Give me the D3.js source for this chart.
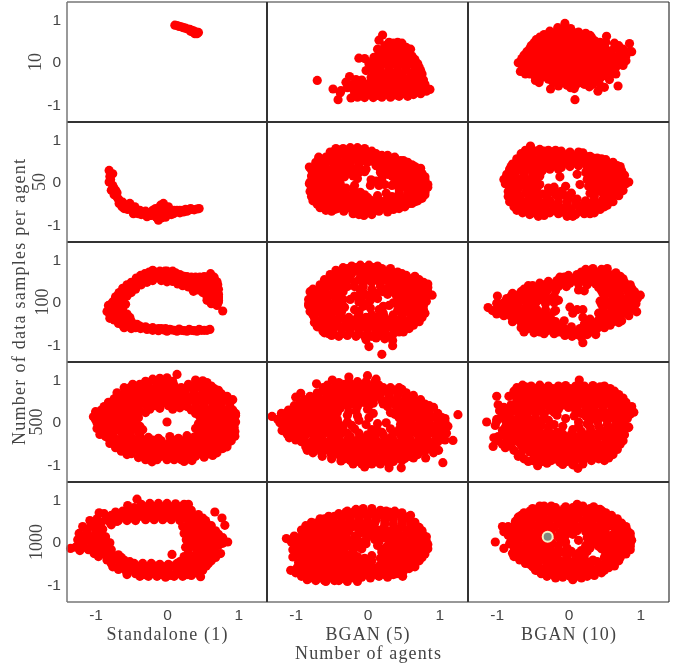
<!DOCTYPE html>
<html><head><meta charset="utf-8">
<script src="https://cdn.jsdelivr.net/npm/d3@7/dist/d3.min.js"></script>
<style>html,body{margin:0;padding:0;background:#fff}svg{display:block;filter:blur(.35px)}</style></head>
<body><div id="c"></div><script>
// Categories
const agentColumns=["Standalone (1)","BGAN (5)","BGAN (10)"];
const sampleRows=["10","50","100","500","1000"];
const tickValues=[-1,0,1];
// Point clouds: flat x,y lists in hundredths
const s10=[11,86,14,85,17,83,20,82,23,80,26,79,29,77,32,76,35,74,38,72,41,70,44,69,42,66,39,66,36,70,33,72];
const s50=[-81,27,-76,19,-80,13,-81,0,-78,-19,-72,-19,-75,-12,-70,-25,-74,-30,-70,-35,-67,-42,-67,-50,-62,-47,-52,-50,-58,-55,-63,-58,-60,-62,-55,-64,-50,-62,-47,-68,-43,-66,-47,-74,-42,-72,-38,-66,-34,-70,-36,-76,-30,-68,-28,-81,-25,-72,-22,-78,-19,-68,-16,-62,-14,-72,-12,-89,-12,-80,-9,-54,-8,-66,-9,-78,-5,-50,-5,-60,-3,-72,-2,-82,2,-58,3,-68,6,-76,9,-74,10,-66,14,-70,18,-66,23,-70,26,-64,30,-66,33,-62,38,-65,45,-62,
-79,6,-76,-8,-68,-40,-64,-52,-55,-58,-45,-58,-40,-74,-32,-74,-25,-78,-20,-66,-15,-82,-8,-84,-7,-60,-2,-64,0,-76,5,-70,14,-66,18,-72,22,-66,28,-68,35,-64,42,-63,-16,-70,-5,-74];
const s100=[-80,-29,-78,-15,-76,0,-72,12,-67,22,-62,32,-56,40,-50,46,-43,56,-37,62,-31,66,-25,70,-18,71,-10,72,-3,72,0,72,6,70,12,68,18,64,24,60,28,59,34,58,40,58,46,58,52,59,56,58,61,66,66,58,70,47,71,40,71,22,72,10,72,0,70,-8,78,-21,-78,-5,-73,5,-68,18,-62,24,-56,30,-48,40,-42,48,-34,52,-26,56,-18,58,-10,58,-2,60,4,54,12,52,20,48,28,46,36,42,44,36,50,30,44,28,37,25,30,35,22,38,15,42,8,48,0,47,-8,50,-20,50,-28,46,-36,40,-44,30,-50,22,-56,14,-62,8,-64,-5,-70,-15,-62,-15,-58,-5,56,50,62,50,68,35,62,30,56,20,62,15,68,5,56,4,62,-4,70,20,64,42,50,48,-76,-30,-70,-28,-62,-30,-56,-28,-52,-36,-74,-42,-68,-42,-65,-45,-62,-54,-58,-48,-56,-56,-50,-45,-48,-56,-42,-52,-37,-62,-38,-56,-30,-58,-28,-64,-20,-60,-20,-66,-12,-62,-12,-67,-5,-65,0,-68,6,-65,14,-68,20,-66,28,-68,34,-66,42,-68,48,-66,56,-66,60,-64,
-84,-22,-82,-8,-74,-15,-70,-2,-78,-18,-70,8,-66,12,-60,16,-58,26,-52,34,-46,46,-40,54,-32,58,-22,64,-14,66,-6,66,2,66,8,62,16,58,24,54,32,52,40,50,48,52,54,44,58,40,60,34,64,24,66,10,58,10,52,36,60,46,66,48,72,30,72,12,66,-2,-80,-38,-74,-36,-66,-36,-60,-40,-68,-50,-54,-46,-60,-60,-50,-62,-44,-60,-34,-60,-24,-62,-16,-64,-8,-62,-2,-62,4,-64,10,-66,17,-63,24,-67,31,-64,38,-67,45,-64,52,-66,
58,28,64,32,68,28,72,18,72,4,66,14,60,6,56,12,50,22,46,44,38,46,58,54,-74,-10,8,72,-20,74];
const s500=[-20,100,-10,102,0,103,14,111,40,98,50,96,-38,88,-26,90,-14,87,-2,89,10,86,30,88,42,87,54,88,62,84,-58,72,-46,75,-34,72,-22,74,-10,71,2,75,14,72,26,74,38,71,50,73,62,70,72,74,-66,58,-54,60,-42,57,-30,59,-18,56,-6,60,6,57,20,59,32,56,44,60,56,57,68,59,80,58,-78,44,-68,42,-56,45,-44,42,-32,44,-20,41,-8,44,4,42,16,44,28,41,40,44,52,41,64,44,76,42,88,45,92,52,-92,28,-84,26,-70,28,-58,26,-46,29,-38,26,-24,30,-10,32,8,30,18,33,34,28,46,30,58,27,70,30,82,27,92,28,-103,12,-96,14,-86,10,-74,13,-62,10,-50,13,-40,10,46,12,58,14,70,10,82,13,94,10,96,15,-98,-2,-90,-5,-78,-2,-66,-4,-54,-2,-42,-5,0,0,44,-4,56,-1,68,-4,80,-2,92,-5,-98,-15,-94,-29,-82,-18,-70,-16,-58,-18,-46,-15,-34,-18,40,-15,50,-19,62,-16,74,-18,86,-16,95,-22,-86,-34,-74,-36,-62,-32,-50,-35,-38,-32,-26,-36,-12,-38,4,-34,16,-38,28,-32,38,-35,50,-33,62,-36,74,-33,86,-36,95,-33,-70,-50,-58,-48,-46,-52,-34,-50,-22,-48,-10,-52,2,-50,14,-53,26,-49,38,-52,50,-49,62,-52,74,-50,84,-58,-56,-66,-46,-64,-34,-67,-22,-64,-10,-67,2,-64,14,-67,26,-64,38,-67,50,-64,62,-66,72,-64,-40,-83,-30,-80,-20,-82,-8,-80,4,-83,16,-80,28,-82,40,-80,52,-82,-21,-93,24,-92,35,-90,
-30,95,-16,96,-4,96,8,95,44,92,56,92,-52,80,-40,82,-28,80,-16,80,-4,80,8,80,20,80,36,80,48,80,60,78,-62,65,-50,66,-38,65,-26,66,-14,64,-2,66,10,64,26,66,38,64,50,66,62,64,74,66,-72,50,-60,52,-48,50,-36,52,-24,50,-12,52,0,50,12,50,24,50,36,52,48,50,60,52,72,50,84,50,-84,36,-76,36,-64,34,-52,37,-40,36,-28,36,-16,38,2,38,14,38,28,36,40,36,52,36,64,37,76,36,88,36,-96,20,-88,20,-76,20,-64,18,-52,20,-42,18,-30,22,40,20,52,22,64,20,76,20,88,20,96,20,-100,5,-92,3,-80,5,-68,3,-56,5,-44,3,50,4,62,6,76,3,88,4,96,0,-92,-10,-84,-10,-72,-10,-60,-10,-48,-10,-38,-10,46,-10,58,-8,70,-10,82,-10,94,-12,-88,-26,-76,-26,-64,-24,-52,-26,-40,-24,44,-24,56,-26,68,-26,80,-26,90,-26,-80,-42,-68,-43,-56,-42,-44,-42,-32,-42,-20,-42,-8,-44,8,-42,20,-44,32,-42,44,-42,56,-44,68,-42,80,-44,90,-44,-64,-58,-52,-58,-40,-58,-28,-56,-16,-60,-4,-58,8,-58,20,-58,32,-58,44,-58,56,-58,68,-57,78,-58,-50,-74,-38,-74,-26,-74,-14,-72,-2,-74,10,-74,22,-72,34,-74,46,-74,58,-74,-30,-88,-14,-88,0,-88,10,-88,20,-88,30,-86,
-74,54,-82,46,-88,36,-100,24,-80,-50,-72,-60,-64,-68,-56,-76,84,-52,78,-62,70,-72,64,-78,-48,88,-60,80,-70,68,66,78,76,66,84,60];
const s1000=[-42,100,-55,85,-36,88,-24,90,-12,90,0,90,12,89,24,88,30,88,-95,68,-88,66,-72,70,-62,72,-50,74,-38,74,-26,76,-14,74,-2,76,10,74,22,76,34,74,44,64,67,70,77,56,81,39,-108,50,-98,54,-86,52,-74,56,-62,58,-50,56,-38,60,-26,58,-14,60,-2,58,10,60,22,58,34,56,46,54,54,50,-118,36,-106,38,-94,34,22,36,34,38,46,36,58,34,-123,20,-112,22,-100,20,-90,16,24,20,36,18,48,22,60,20,72,18,-125,5,-112,4,-100,2,-88,6,-80,-2,27,5,38,2,50,6,62,3,74,5,85,0,-135,-15,-128,-12,-116,-12,-104,-8,-92,-10,-84,-14,26,-12,38,-10,50,-14,62,-10,72,-8,-102,-27,-90,-28,-78,-26,-68,-30,30,-26,42,-28,54,-24,64,-27,75,-27,7,-29,-84,-42,-72,-40,-60,-42,-52,-46,18,-46,30,-42,42,-44,54,-40,62,-44,-76,-58,-64,-54,-52,-58,-40,-56,-28,-58,-16,-56,-4,-58,8,-56,20,-58,32,-56,44,-60,55,-56,-56,-76,-44,-74,-32,-76,-20,-74,-8,-76,4,-78,16,-74,28,-76,40,-72,47,-81,
-46,80,-30,82,-18,82,-6,82,6,82,18,82,27,82,-78,62,-66,64,-54,66,-44,66,-32,67,-20,68,-8,68,4,68,16,68,28,66,40,60,50,56,-102,44,-92,46,-80,46,-68,50,-56,50,-44,50,-30,52,-18,52,-6,52,6,52,18,50,30,48,42,46,56,42,62,38,-112,30,-100,28,-90,30,-78,40,-70,48,28,30,40,28,52,28,62,26,68,26,-116,12,-106,12,-94,10,-86,12,32,12,44,12,56,12,68,12,78,10,-120,-4,-106,-2,-94,-4,-84,0,32,-2,44,-2,56,-4,68,-2,78,-3,-122,-20,-110,-18,-98,-18,-88,-20,-78,-18,30,-18,42,-18,56,-18,66,-18,-96,-34,-84,-34,-76,-34,-64,-36,24,-34,36,-34,48,-34,58,-34,68,-36,-78,-50,-66,-48,-58,-48,-46,-50,-34,-50,-22,-50,-10,-52,2,-52,14,-50,24,-50,36,-50,48,-50,58,-50,-68,-64,-58,-66,-46,-66,-34,-66,-22,-66,-10,-66,2,-68,14,-66,26,-66,38,-66,50,-66,-38,-80,-26,-80,-14,-80,-2,-82,10,-80,22,-80,34,-78];
const b5_10=[21,63,16,51,36,44,30,38,42,38,54,34,60,30,14,30,22,22,34,24,46,22,58,22,-12,9,-4,8,9,11,20,10,32,12,44,8,56,10,66,6,2,-4,12,-4,24,-2,36,-4,48,-2,60,-4,70,-4,-2,-20,8,-18,18,-20,30,-18,42,-20,54,-18,66,-20,74,-20,-25,-34,-16,-41,5,-36,14,-34,26,-36,38,-34,50,-36,62,-34,72,-36,-30,-47,-20,-52,-10,-48,2,-50,14,-50,26,-48,38,-50,50,-48,62,-50,74,-48,80,-52,-48,-63,-37,-67,-28,-60,-20,-63,-8,-64,4,-62,16,-64,28,-62,40,-64,52,-62,64,-64,76,-60,87,-64,-41,-88,-23,-84,-18,-75,-8,-78,2,-76,14,-78,26,-76,38,-77,50,-74,56,-80,64,-76,74,-74,-70,-43,
30,46,42,46,48,44,24,38,36,30,48,30,56,26,28,30,16,16,28,18,40,16,52,16,62,14,8,4,18,2,30,4,42,2,54,4,64,0,6,-10,18,-12,30,-10,42,-12,54,-10,66,-12,72,-12,10,-28,24,-28,36,-26,48,-28,60,-26,70,-28,76,-28,-8,-42,8,-44,20,-42,32,-42,44,-42,56,-42,68,-44,78,-42,-26,-55,-14,-56,-2,-56,10,-56,22,-56,34,-56,46,-56,58,-56,70,-54,80,-58,-38,-72,-14,-71,-2,-70,8,-70,20,-70,32,-70,44,-70,58,-70,70,-70,82,-68,-14,-82,-4,-83,8,-83,20,-82,32,-82,44,-80];
const b10_10=[-5,90,-15,80,-5,80,3,78,-34,64,-24,68,-12,66,0,66,8,68,24,67,-45,52,-34,52,-22,54,-10,52,2,54,14,52,26,54,36,50,53,60,-52,38,-42,38,-30,40,-18,38,-6,40,6,38,18,40,30,38,42,40,50,36,70,38,85,43,-58,24,-48,24,-36,26,-24,24,-12,26,0,24,12,26,24,24,36,26,48,24,60,26,72,22,84,24,88,24,-65,8,-54,10,-42,12,-30,10,-18,12,-6,10,6,12,18,10,30,12,42,10,54,12,66,10,78,8,-70,-2,-60,-4,-48,-2,-36,-4,-24,-2,-12,-4,0,-2,12,-4,24,-2,36,-4,48,-2,60,-4,72,-2,80,3,-67,-22,-56,-18,-44,-20,-32,-18,-20,-20,-8,-18,4,-20,16,-18,28,-20,40,-18,52,-20,64,-20,-54,-28,-46,-36,-34,-34,-22,-32,-10,-34,2,-32,14,-34,26,-32,38,-34,50,-32,-46,-43,-41,-48,-22,-46,-8,-48,4,-46,16,-48,28,-46,40,-44,57,-41,-25,-63,3,-60,8,-62,29,-58,50,-59,45,-56,69,-56,41,-68,9,-88,
-26,72,-16,72,-6,72,4,72,14,70,30,62,-40,58,-28,60,-16,60,-4,60,8,60,20,60,32,58,44,46,-48,45,-38,46,-26,46,-14,46,-2,46,10,46,22,46,34,46,46,44,52,46,64,44,-54,31,-44,32,-32,32,-20,32,-8,32,4,32,16,32,28,32,40,32,52,30,64,32,76,30,-62,16,-50,18,-38,18,-26,18,-14,18,-2,18,10,18,22,18,34,18,46,18,58,18,70,16,80,14,-66,2,-56,4,-44,4,-32,4,-20,4,-8,4,4,4,16,4,28,4,40,4,52,4,64,4,74,4,-64,-10,-54,-12,-42,-12,-30,-12,-18,-12,-6,-12,6,-12,18,-12,30,-12,42,-12,54,-12,66,-12,76,-8,-60,-28,-50,-28,-38,-26,-26,-26,-14,-26,-2,-26,10,-26,22,-26,34,-26,46,-26,58,-26,66,-28,-40,-40,-28,-40,-16,-42,-4,-40,8,-40,20,-40,32,-40,44,-38,-14,-56,-2,-54,10,-54,22,-52,34,-52];
const b5_50=[-45,74,-34,78,-24,80,-14,80,-4,78,-58,58,-48,62,-36,66,-24,64,-12,66,0,64,12,66,20,62,-65,50,-54,52,-42,54,-30,50,-18,54,-6,50,6,54,16,50,28,54,40,50,50,50,-81,35,-70,38,-60,36,-48,34,-36,36,-24,38,-12,36,-2,30,12,38,24,34,36,36,48,34,60,34,70,26,-74,22,-62,20,-50,22,-38,20,-28,24,-12,22,-4,24,18,22,28,18,40,22,52,18,64,20,76,20,-76,6,-64,4,-52,6,-40,4,-14,8,5,5,20,8,24,-6,38,6,50,4,62,6,74,4,-81,-4,-78,-12,-66,-10,-54,-12,-42,-10,-30,-14,-18,-8,4,-8,12,2,16,-8,34,-8,50,-10,62,-12,74,-8,80,-18,-80,-22,-68,-26,-56,-24,-44,-26,-32,-24,-20,-26,-10,-24,14,-32,26,-26,44,-26,56,-24,68,-26,80,-24,-70,-40,-58,-38,-46,-40,-34,-38,-22,-40,-10,-38,0,-36,4,-42,16,-42,28,-40,40,-42,52,-38,64,-40,72,-36,-60,-56,-48,-54,-36,-56,-24,-54,-12,-56,0,-54,12,-56,24,-54,36,-56,48,-52,58,-50,-46,-64,-33,-68,-20,-70,-8,-68,4,-70,16,-68,28,-70,36,-64,-12,-76,-5,-78,6,-76,
-40,70,-28,72,-18,72,-8,72,6,72,-52,64,-42,58,-30,58,-18,60,-6,58,6,60,16,58,26,60,38,58,-70,44,-58,44,-46,44,-36,44,-24,44,-12,44,0,46,10,46,20,44,32,44,44,44,54,42,62,40,-78,28,-66,28,-54,28,-42,28,-30,30,-18,30,18,30,30,28,42,28,54,28,66,28,74,24,-78,14,-68,12,-56,14,-44,12,-32,12,-20,14,34,14,46,14,58,14,70,12,80,12,-80,0,-70,-3,-58,-3,-46,-3,-38,-4,44,-2,56,-2,68,-2,80,-2,84,-6,-74,-18,-62,-18,-50,-18,-38,-18,-20,-16,56,-18,68,-18,78,-15,84,-12,44,-16,-76,-34,-64,-32,-52,-32,-40,-32,-28,-32,-16,-32,-4,-30,34,-34,46,-34,58,-32,70,-32,78,-30,-64,-48,-52,-46,-40,-48,-28,-46,-16,-48,-4,-46,10,-48,22,-46,34,-48,46,-46,58,-46,66,-46,-54,-62,-42,-62,-30,-62,-18,-62,-6,-62,6,-62,18,-62,30,-62,42,-60,-20,-74,-10,-74,
-68,58,-72,46,-78,-34,-76,-44,-70,-52,-66,-60,-58,-66,-50,-68,76,12,80,6,80,-30,76,-38,70,-44,62,-50,52,-58,44,-62,-52,70,-44,78,28,62,36,56,46,50,56,46,66,36,74,32];
const b10_50=[-53,80,-40,76,-28,74,-18,74,-62,62,-50,66,-38,62,-26,64,-14,62,-2,64,10,60,22,62,-68,50,-56,52,-44,50,-32,52,-20,50,-8,52,4,50,16,52,28,54,40,50,52,46,-80,36,-70,36,-58,34,-46,36,-34,34,-22,38,-10,34,2,36,14,38,30,34,42,36,54,34,66,32,-86,18,-74,20,-62,22,-50,20,-38,24,-26,30,-14,30,24,22,36,20,48,22,60,20,72,24,78,16,-90,6,-80,4,-68,6,-56,4,-44,8,-12,12,12,18,26,6,38,8,50,4,62,6,74,2,-88,-4,-78,-10,-66,-8,-54,-12,-40,-6,-20,-12,-4,-10,16,-6,28,-10,40,-8,52,-10,64,-8,72,-12,84,0,80,-4,-84,-22,-74,-24,-60,-26,-48,-22,-36,-28,-24,-22,-10,-22,4,-26,30,-26,44,-22,56,-26,66,-24,-78,-40,-68,-38,-56,-40,-44,-38,-30,-42,-14,-36,0,-38,12,-40,24,-44,36,-42,48,-40,58,-38,-74,-54,-62,-56,-50,-52,-38,-56,-26,-50,-14,-54,-2,-56,10,-52,22,-56,34,-52,46,-54,-68,-64,-56,-66,-44,-68,-32,-70,-20,-66,-8,-70,4,-72,16,-68,28,-68,36,-64,-34,-78,-2,-80,6,-80,
-58,70,-46,72,-34,72,-22,70,-10,72,2,70,14,70,20,68,-64,56,-52,58,-40,56,-28,58,-16,56,-4,58,8,56,20,58,34,56,46,54,-74,44,-62,42,-50,44,-38,44,-26,44,-14,42,-2,44,10,44,22,44,36,44,48,42,60,40,68,38,-82,26,-72,28,-60,28,-48,28,-36,28,26,30,38,28,50,28,62,26,74,26,-84,12,-74,12,-62,14,-50,14,-40,14,30,14,42,14,54,14,66,12,76,10,-84,-3,-72,-3,-60,-3,-48,-3,32,-2,44,-2,56,-2,68,-4,78,4,-82,-14,-70,-16,-58,-18,-44,-14,-28,-14,34,-18,48,-16,60,-18,70,-16,-80,-32,-68,-32,-54,-32,-42,-32,-30,-34,-18,-30,-4,-32,36,-34,50,-32,62,-32,-72,-46,-62,-48,-50,-46,-38,-48,-26,-44,-14,-46,-2,-46,10,-46,22,-50,34,-48,46,-47,56,-46,-66,-60,-56,-60,-44,-60,-32,-62,-20,-58,-8,-62,4,-64,16,-62,28,-62,40,-60,50,-58,-62,-66,-50,-72,-38,-74,-26,-72,-14,-74,10,-76,22,-74,
-82,30,-78,42,-72,54,-66,66,-60,74,-53,84,-84,-34,-82,-46,-76,-58,-72,-66,-64,-72,-54,-76,-42,-80,30,-74,36,-72,44,-64,54,-54,62,-46,70,-32,76,-20,30,60,40,56,52,52,62,46,72,36];
const b5_100=[-22,84,-10,86,2,86,14,84,-40,68,-30,72,-18,74,-6,72,6,74,18,72,30,74,42,70,-48,56,-36,58,-24,60,-6,60,6,58,18,60,30,58,42,60,54,62,66,60,-56,44,-44,46,-32,42,-18,46,-6,44,6,46,18,44,30,46,42,44,54,46,66,44,78,46,-70,28,-60,30,-48,32,-36,30,-10,28,6,30,12,20,28,32,42,30,54,32,66,30,78,30,84,34,-74,16,-64,14,-52,16,-40,18,-18,14,-10,10,-2,16,6,14,28,18,40,16,52,14,64,16,76,14,90,16,-82,-4,-72,-2,-60,0,-48,-4,-24,6,-12,0,4,4,14,8,36,-2,48,2,60,0,72,-2,82,2,-78,-14,-68,-16,-56,-14,-44,-12,-32,-12,-18,-18,-6,-10,4,-14,16,-18,22,-10,48,-14,60,-16,72,-14,78,-18,-76,-30,-64,-26,-52,-30,-40,-26,-12,-28,6,-30,22,-26,36,-30,48,-26,60,-28,72,-32,-68,-44,-56,-42,-44,-44,-32,-40,-20,-44,-8,-42,4,-44,16,-42,28,-44,40,-42,52,-44,62,-42,70,-38,-62,-54,-52,-58,-40,-56,-28,-58,-16,-56,-4,-58,8,-56,20,-58,32,-56,44,-58,54,-56,-60,-72,-48,-72,-36,-74,-24,-72,-12,-74,0,-72,12,-74,24,-72,36,-74,44,-70,-2,-88,12,-84,24,-86,35,-90,2,-104,20,-122,35,-102,
-28,78,-16,80,-4,80,8,80,20,78,32,78,-44,62,-34,64,-22,66,-10,66,0,66,12,66,24,66,36,66,48,66,-52,50,-40,52,-28,52,-12,52,0,52,12,52,24,52,36,52,48,54,60,54,72,52,80,40,-64,36,-52,38,-40,38,-28,36,-18,36,-6,36,18,36,34,38,48,38,60,38,72,38,84,42,-70,22,-58,22,-46,24,-34,24,-6,22,22,24,36,24,48,22,60,22,72,22,84,24,-78,8,-68,6,-56,8,-44,8,-34,6,-8,2,44,8,56,8,68,8,80,8,-82,-8,-74,-8,-62,-8,-50,-8,-40,-4,-2,-6,30,-8,42,-6,54,-8,66,-8,78,-8,-80,-22,-70,-22,-58,-22,-46,-20,-36,-22,-12,-22,42,-20,54,-22,66,-22,76,-24,-74,-36,-62,-36,-50,-36,-38,-34,-26,-36,-14,-36,-2,-36,12,-36,24,-36,36,-36,48,-36,60,-36,70,-36,-66,-50,-54,-50,-42,-50,-30,-50,-18,-50,-6,-50,6,-50,18,-50,30,-50,42,-50,54,-50,64,-50,-60,-62,-48,-64,-36,-64,-24,-64,-12,-64,0,-64,12,-66,24,-64,36,-64,46,-64,52,-62,-40,-80,-28,-78,-16,-80,-4,-80,6,-80,18,-78,30,-80,-50,-78,
-82,6,-80,24,-76,30,-66,40,-60,52,-52,64,-44,74,-34,80,-74,-48,-70,-58,-62,-68,-54,-74,80,-26,76,-36,72,-46,64,-54,58,-62,50,-70];
const b10_100=[24,76,34,78,46,76,54,78,-12,58,0,62,12,64,24,64,36,62,48,64,60,62,72,60,-56,38,-40,44,-28,48,-16,50,-4,52,8,50,20,50,32,48,44,50,56,48,68,48,78,46,-62,30,-50,32,-38,34,-26,36,-14,36,-3,36,14,28,22,26,42,34,54,32,66,34,78,32,88,32,-99,14,-78,20,-70,16,-58,18,-46,20,-34,16,-20,14,48,20,60,18,72,16,84,18,100,16,-88,2,-78,2,-66,4,-54,0,-42,4,-20,-2,-14,4,44,2,56,0,68,2,80,4,92,2,-112,-13,-98,-10,-84,-12,-72,-10,-60,-14,-48,-8,-20,-22,2,-12,12,-18,20,-18,50,-10,62,-14,74,-10,86,-12,-100,-28,-88,-24,-76,-26,-64,-28,-52,-24,-40,-26,-30,-30,-18,-20,6,-26,42,-26,54,-28,66,-24,78,-26,95,-23,-72,-40,-60,-42,-48,-38,-36,-42,-24,-40,-6,-44,20,-36,30,-40,42,-42,54,-40,66,-38,74,-44,-62,-56,-50,-52,-38,-56,-26,-52,-14,-54,-8,-58,4,-58,22,-52,34,-56,46,-52,58,-54,-62,-70,-40,-70,-28,-66,-14,-70,-2,-66,10,-70,22,-68,34,-70,38,-76,-5,-78,5,-80,18,-82,20,-95,
18,70,30,70,42,70,54,70,66,68,-6,58,8,56,18,58,30,56,42,56,54,56,66,54,76,54,-50,38,-34,40,-22,42,-10,44,2,44,14,42,26,40,38,42,50,40,62,40,74,40,86,40,-80,14,-66,24,-54,26,-42,26,-30,26,-18,26,46,26,58,26,70,26,82,26,92,24,-86,8,-74,10,-62,10,-50,10,-38,10,-26,8,50,10,62,8,74,8,86,8,96,8,-100,-3,-92,-4,-82,-5,-70,-4,-58,-6,-46,-3,-32,-4,46,-5,58,-6,70,-4,82,-5,94,-4,-106,-20,-92,-18,-80,-18,-68,-20,-56,-18,-44,-18,-32,-18,48,-18,60,-20,72,-18,84,-18,92,-18,-90,-32,-80,-34,-68,-34,-56,-34,-44,-32,-30,-38,48,-34,60,-34,72,-32,84,-32,-78,-46,-66,-48,-54,-46,-42,-48,-30,-46,-18,-46,26,-46,38,-48,50,-46,62,-46,70,-48,-66,-60,-56,-62,-44,-62,-32,-60,-20,-62,-8,-64,4,-64,16,-62,28,-62,40,-62,50,-60,-48,-72,-34,-74,-20,-74,-8,-72,2,-74,12,-76,26,-76];
const b5_500=[-49,98,-26,105,0,108,12,100,-71,89,-56,86,-44,84,-32,88,-20,86,-8,88,4,84,16,86,-60,72,-48,70,-36,74,-24,72,-12,74,0,72,12,74,24,72,36,75,48,76,-93,67,-100,58,-80,60,-68,58,-56,60,-44,58,-32,60,-20,58,-8,60,4,58,16,60,30,58,42,62,54,60,64,62,-94,44,-82,46,-70,44,-58,46,-46,44,-34,46,-22,42,-6,46,8,44,22,42,34,46,46,44,58,46,70,44,80,42,-110,28,-98,30,-86,28,-74,30,-62,28,-50,30,-38,32,-16,26,0,30,8,20,32,22,44,28,56,30,68,28,80,30,92,34,-133,13,-120,20,-108,14,-96,10,-84,14,-72,12,-60,14,-48,10,-28,16,-14,14,2,10,44,10,56,14,68,12,80,14,92,12,104,10,126,17,-122,-2,-110,-4,-98,0,-86,-2,-74,-4,-62,-2,-50,0,-40,-4,-28,0,-12,4,-2,-6,14,-4,26,-2,46,-6,60,-2,72,-4,84,-2,96,-6,108,0,-119,-20,-108,-16,-96,-18,-84,-14,-72,-18,-60,-16,-48,-14,-34,-20,-18,-16,6,-18,14,-20,32,-16,44,-18,56,-16,68,-14,80,-18,92,-16,104,-20,-109,-37,-98,-34,-86,-30,-74,-34,-62,-30,-50,-34,-38,-30,-24,-34,-10,-36,0,-30,10,-34,22,-30,34,-34,46,-30,58,-34,70,-30,82,-34,94,-30,106,-34,119,-43,-92,-46,-80,-50,-68,-46,-56,-50,-44,-46,-32,-50,-20,-46,-8,-50,4,-46,16,-50,28,-46,40,-50,52,-46,64,-50,76,-46,88,-50,98,-46,-84,-66,-70,-62,-58,-64,-46,-62,-34,-64,-22,-62,-10,-64,2,-62,14,-64,26,-62,38,-64,50,-62,62,-64,74,-60,86,-62,99,-66,-63,-80,-50,-78,-38,-80,-26,-78,-14,-80,-2,-78,10,-80,22,-78,34,-80,46,-78,58,-80,70,-76,81,-84,-37,-91,-24,-90,-12,-92,0,-90,12,-93,24,-90,36,-92,48,-90,105,-95,-4,-105,30,-107,47,-107,
-40,92,-26,94,-14,94,-2,94,10,94,-62,80,-50,78,-38,80,-26,80,-14,80,-2,80,10,80,22,80,32,80,44,80,-70,68,-54,66,-42,64,-30,66,-18,66,-6,66,6,66,18,66,30,66,42,68,54,68,-88,52,-76,52,-64,52,-52,52,-40,52,-28,52,-16,52,-4,52,8,52,20,50,28,52,40,52,52,52,64,52,74,52,-102,38,-90,38,-78,38,-66,38,-54,38,-42,38,-28,38,-14,36,2,38,28,36,40,36,52,38,64,38,76,38,86,38,-114,20,-102,22,-90,22,-78,22,-66,22,-54,22,-42,22,-26,24,38,18,50,20,62,22,74,22,86,22,98,20,-125,6,-114,6,-102,6,-90,6,-78,6,-66,6,-54,6,-42,6,50,6,62,6,74,6,86,6,98,6,108,8,-116,-10,-104,-10,-92,-8,-80,-8,-68,-10,-56,-8,-44,-8,-34,-10,-22,-8,52,-10,66,-10,78,-10,90,-10,102,-10,112,-10,-112,-28,-102,-26,-90,-24,-78,-26,-66,-24,-54,-24,-42,-24,-28,-26,-12,-26,20,-24,38,-24,50,-24,62,-24,74,-24,86,-24,98,-26,110,-26,-100,-42,-88,-40,-76,-42,-64,-40,-52,-42,-40,-38,-28,-42,-14,-42,-2,-38,12,-42,24,-38,36,-42,48,-38,60,-42,72,-38,84,-42,96,-38,108,-42,-86,-58,-74,-56,-62,-56,-50,-56,-38,-56,-26,-56,-14,-56,-2,-56,10,-56,22,-56,34,-56,46,-56,58,-56,70,-56,82,-56,94,-56,-76,-72,-64,-72,-52,-70,-40,-72,-28,-70,-16,-72,-4,-70,8,-72,20,-70,32,-72,44,-70,56,-72,68,-68,80,-68,92,-72,-50,-86,-32,-86,-20,-85,-8,-85,4,-85,16,-86,28,-86,40,-85,52,-85,64,-84,-20,-98,-8,-98,6,-98,18,-98,30,-98];
const b10_500=[15,98,-64,86,-52,84,-40,86,-28,84,-14,84,-4,85,10,84,22,84,34,85,44,82,-83,60,-66,70,-54,72,-42,70,-30,72,-18,70,-6,72,6,70,18,72,30,70,42,72,54,66,-100,60,-66,56,-54,56,-42,56,-30,56,-18,58,-6,56,6,58,18,56,30,58,42,56,54,58,66,62,-98,40,-80,40,-66,42,-54,40,-42,42,-30,44,-18,42,-6,40,6,42,18,44,30,40,42,42,54,44,66,40,76,38,-96,26,-88,30,-76,28,-64,26,-52,28,-40,26,-26,28,-14,30,10,26,24,30,36,28,48,26,60,28,72,26,84,28,91,23,-92,10,-82,12,-70,10,-58,14,-46,10,-34,8,-16,16,-4,8,8,14,24,14,36,12,48,14,60,10,72,14,82,8,-114,0,-100,2,-86,-4,-72,-2,-60,-4,-48,-2,-38,-6,-20,-6,-8,-10,14,0,26,-4,40,2,54,-6,66,-4,78,-6,82,-14,-92,-20,-82,-22,-68,-18,-56,-20,-44,-18,-28,-20,-16,-24,6,-18,18,-22,32,-22,46,-20,60,-18,72,-16,74,-28,-104,-37,-92,-30,-80,-34,-66,-34,-54,-32,-42,-34,-30,-32,-16,-36,-4,-38,10,-34,22,-36,34,-34,46,-32,58,-34,70,-32,-105,-57,-98,-44,-84,-50,-70,-46,-56,-48,-44,-46,-32,-48,-20,-46,-8,-48,4,-46,16,-48,28,-46,40,-48,52,-46,62,-46,-88,-60,-76,-66,-60,-62,-48,-62,-36,-64,-24,-62,-12,-64,0,-62,12,-64,24,-62,36,-64,48,-62,58,-60,-48,-78,-36,-80,-24,-78,-12,-80,0,-78,12,-80,24,-78,36,-80,46,-78,56,-74,-43,-102,-36,-92,-24,-90,-12,-94,-2,-92,8,-94,20,-92,32,-90,13,-108,
-58,78,-46,78,-34,78,-22,78,-10,78,2,78,14,78,26,78,38,78,50,76,-60,62,-48,64,-36,64,-24,64,-12,64,0,64,12,64,24,64,36,64,48,64,60,62,-72,48,-60,48,-48,48,-36,50,-24,50,-12,48,0,48,12,50,24,50,36,50,48,50,60,50,70,48,-90,34,-72,36,-60,34,-48,34,-36,36,-24,36,-12,36,0,34,12,34,24,36,36,36,48,36,60,36,72,34,82,34,-92,18,-82,20,-70,20,-58,20,-46,20,-34,18,-20,22,18,20,30,20,42,20,54,20,66,20,78,20,86,18,-100,6,-88,4,-76,4,-64,6,-52,4,-40,2,-28,4,30,4,42,6,54,4,66,4,76,4,-102,-8,-88,-12,-76,-10,-64,-12,-52,-10,-40,-12,-28,-12,14,-10,30,-12,42,-10,56,-12,68,-10,78,-12,84,-12,-88,-26,-74,-26,-62,-26,-50,-26,-38,-26,-22,-28,-8,-28,4,-28,28,-28,40,-28,52,-26,64,-26,74,-20,-98,-34,-86,-40,-74,-40,-60,-40,-48,-40,-36,-40,-24,-40,-10,-42,2,-42,16,-40,28,-40,40,-40,52,-40,64,-40,72,-38,-92,-52,-80,-56,-66,-54,-52,-54,-40,-56,-28,-54,-16,-54,-4,-54,8,-54,20,-54,32,-54,44,-54,56,-54,66,-50,-66,-72,-54,-70,-42,-70,-30,-70,-18,-70,-6,-70,6,-70,18,-70,30,-70,42,-70,54,-68,62,-66,-44,-86,-30,-86,-18,-86,-6,-86,6,-86,18,-86,30,-84,42,-86,50,-82,-30,-96,-8,-99,6,-100,20,-98,
-72,80,-76,72,-76,62,-60,82,50,84,58,78,64,72,70,64,76,56,80,46,88,36,-70,-80,-62,-86,-56,-92,-50,-90,50,-90,56,-84,62,-76,68,-64,72,-52,76,-44,78,-30];
const b5_1000=[-16,76,-6,78,6,78,18,74,-46,60,-34,62,-22,66,-10,64,2,66,14,62,26,66,38,64,50,58,60,62,-72,44,-60,48,-48,50,-36,48,-24,52,-12,50,0,50,12,52,24,50,36,52,48,48,60,48,-80,34,-68,32,-56,34,-44,36,-32,30,-20,36,-6,34,8,36,22,32,38,30,48,36,60,34,68,36,-90,18,-78,20,-66,22,-54,20,-42,22,-30,18,-18,14,-8,22,6,20,18,22,30,18,42,22,54,20,66,24,72,22,-113,8,-100,6,-88,4,-76,6,-64,4,-52,8,-40,4,-28,6,-16,2,-2,6,10,6,24,10,36,8,48,6,60,4,72,8,82,2,-98,-8,-86,-10,-74,-8,-62,-12,-50,-8,-38,-12,-26,-8,-14,-12,-2,-4,14,-8,26,-12,38,-8,50,-12,62,-8,74,-10,84,-16,-104,-35,-94,-22,-82,-24,-70,-22,-58,-26,-46,-22,-34,-24,-20,-30,-4,-38,6,-32,20,-24,34,-26,48,-22,60,-26,72,-28,-92,-40,-80,-38,-68,-40,-56,-36,-44,-40,-32,-36,-20,-42,-8,-52,6,-44,18,-38,30,-40,42,-36,54,-40,66,-38,70,-34,-107,-66,-92,-54,-80,-56,-68,-52,-56,-56,-44,-52,-32,-56,-20,-54,-8,-58,4,-52,16,-56,28,-52,40,-56,52,-52,64,-52,-90,-72,-78,-70,-66,-68,-54,-72,-42,-68,-30,-72,-18,-68,-6,-72,6,-68,18,-72,30,-68,42,-72,49,-80,-80,-84,-68,-84,-56,-86,-44,-82,-32,-86,-20,-84,-8,-82,4,-84,16,-80,28,-82,-60,-90,-46,-90,-14,-92,
-30,70,-18,72,-6,72,6,72,18,70,30,70,-60,54,-48,56,-36,56,-24,58,-12,58,0,58,12,58,24,58,36,58,48,56,58,54,-76,40,-64,40,-52,42,-40,42,-28,40,-16,42,-2,42,10,44,24,42,36,42,48,42,60,42,-84,26,-72,26,-60,28,-48,28,-36,26,-26,26,-12,28,2,28,14,28,30,26,44,30,56,28,68,28,76,26,-102,14,-92,12,-80,12,-68,12,-56,14,-44,14,-34,12,-14,16,0,14,14,14,26,14,38,14,50,14,62,14,74,14,82,12,-106,0,-94,-2,-82,-2,-70,-2,-58,-2,-46,-2,-34,-2,-20,-4,-8,0,16,0,30,0,42,0,54,-2,66,-2,78,-2,84,-6,-104,-18,-92,-15,-80,-16,-68,-16,-56,-18,-44,-16,-32,-16,-20,-18,-8,-16,20,-18,32,-18,44,-18,56,-18,68,-18,78,-20,-100,-28,-88,-30,-76,-32,-64,-30,-52,-32,-40,-32,-28,-30,-14,-34,26,-32,38,-32,50,-30,62,-32,72,-34,-96,-48,-86,-46,-74,-46,-62,-46,-50,-46,-38,-46,-26,-48,-14,-48,0,-46,24,-46,36,-46,48,-46,60,-46,68,-42,-98,-60,-86,-62,-74,-62,-62,-60,-50,-62,-38,-62,-26,-62,-14,-62,-2,-64,10,-62,22,-62,34,-62,46,-62,56,-60,-84,-78,-72,-76,-60,-78,-48,-76,-36,-78,-24,-76,-12,-76,0,-76,12,-76,24,-76,36,-76,44,-74,
-92,28,-86,38,-78,46,-66,54,-54,60,-40,66,-28,72,-100,-72,-92,-80,-84,-88,-72,-90,-58,-92,-40,-90,-28,-92,32,-76,40,-74,50,-68,58,-62,66,-58,72,-44,76,-36,80,-28,26,72,38,72,48,68,58,60,66,46,72,34,78,16];
const b10_1000=[-34,84,-24,84,-4,82,12,88,20,84,35,82,-66,62,-54,72,-42,74,-30,72,-18,74,-6,72,6,74,18,72,30,74,42,70,47,72,-70,58,-58,56,-46,58,-34,56,-22,58,-10,56,2,58,14,56,26,58,38,56,50,58,60,56,-84,36,-74,40,-62,42,-50,40,-38,42,-26,40,-14,42,-2,40,10,38,22,42,34,40,46,42,60,38,72,38,-92,36,-90,24,-78,26,-66,26,-54,24,-42,26,-30,28,-12,22,0,24,12,26,24,24,36,26,48,24,62,18,74,24,82,26,-76,10,-64,12,-52,10,-40,8,-15,12,-8,6,14,4,26,10,38,12,50,8,62,10,74,8,86,12,-82,-4,-72,-4,-60,-6,-48,-2,-36,-6,-22,-4,-4,0,24,-8,36,-4,48,-6,60,-4,72,-2,86,-4,-90,-15,-74,-20,-64,-16,-52,-20,-40,-18,-28,-16,-14,-18,-2,-14,18,-20,30,-14,46,-16,58,-18,70,-20,82,-16,-102,0,-66,-34,-54,-30,-42,-34,-30,-30,-16,-36,-2,-30,10,-34,22,-30,50,-36,62,-32,74,-30,-56,-46,-44,-48,-32,-44,-20,-48,-8,-46,4,-48,16,-44,28,-48,40,-46,52,-46,64,-48,70,-44,-50,-58,-40,-62,-28,-58,-16,-60,-4,-62,8,-58,20,-60,32,-62,44,-58,56,-60,62,-54,-38,-72,-26,-74,-14,-76,-2,-74,10,-72,22,-76,34,-74,46,-72,-18,-84,6,-88,-8,-82,18,-84,
-40,78,-30,78,-18,80,-6,78,6,80,18,78,30,78,40,76,-60,64,-48,66,-36,64,-24,66,-12,64,0,64,12,66,24,66,36,64,48,66,-74,48,-64,48,-52,48,-40,50,-28,48,-16,50,-4,48,8,48,20,48,32,48,44,50,56,48,66,46,-80,30,-68,34,-56,34,-44,34,-32,34,-20,34,-8,34,4,32,16,34,28,34,40,34,52,32,66,30,78,32,-84,16,-72,18,-60,18,-48,18,-36,18,-24,20,-4,16,6,18,30,18,42,20,54,16,68,16,80,18,86,20,-80,3,-70,3,-58,3,-46,2,-34,2,30,2,42,2,54,2,66,2,78,2,88,4,-76,-12,-66,-10,-54,-12,-42,-12,-30,-10,-14,-8,30,-8,42,-10,54,-12,66,-12,78,-10,86,-10,-78,-26,-66,-26,-58,-24,-46,-26,-34,-24,-22,-24,-8,-24,4,-22,14,-26,26,-22,52,-26,64,-26,76,-24,-62,-40,-50,-38,-38,-40,-26,-38,-14,-42,-2,-38,10,-42,22,-38,34,-42,56,-40,68,-38,-54,-52,-42,-54,-30,-52,-18,-54,-6,-54,6,-52,18,-52,30,-54,42,-52,54,-52,62,-50,-44,-66,-32,-66,-20,-68,-8,-68,4,-68,16,-68,28,-68,40,-66,50,-66,-30,-80,-20,-78,-8,-80,2,-80,14,-80,26,-80,36,-78,
-62,68,-50,78,-40,84,44,76,52,68,60,62,68,54,74,44,80,36,-60,-50,-68,-42,-72,-34,-76,-34,-46,-66,-38,-74,48,-66,56,-56,64,-56,72,-36,80,-28,86,-18];
const highlightPoint=[-29,12];
const pointGrid=[[s10,b5_10,b10_10],[s50,b5_50,b10_50],[s100,b5_100,b10_100],[s500,b5_500,b10_500],[s1000,b5_1000,b10_1000]];

const W=689,H=668,colX=[67,267,468,669],rowY=[2,122,242,362,482,602];
const rowLabelX=[37,41,44,38,38];
const colLabelW=[121,84,95];
const dom=[-1.4,1.4];
const sansF='"Liberation Sans",Arial,sans-serif',serifF='"Liberation Serif",serif',ink='#444',fs=18;
const svg=d3.select('#c').append('svg').attr('width',W).attr('height',H);

function toPts(a){const o=[];for(let i=0;i<a.length;i+=2)o.push([a[i]/100,a[i+1]/100]);return o;}

sampleRows.forEach((rowName,r)=>{
  const y=d3.scaleLinear().domain(dom).range([rowY[r+1],rowY[r]]);
  const ax=svg.append('g').attr('transform',`translate(67,0)`)
    .call(d3.axisLeft(y).tickValues(tickValues).tickSize(0).tickPadding(6).tickFormat(d3.format('d')));
  ax.select('.domain').remove();
  ax.selectAll('text').attr('font-family',sansF).attr('font-size',15.5).attr('fill',ink).text(d=>d<0?'-'+Math.abs(d):d);
  svg.append('text').attr('transform',`translate(${rowLabelX[r]},${y(0)}) rotate(-90)`)
    .attr('text-anchor','middle').attr('dominant-baseline','middle')
    .attr('font-family',serifF).attr('font-size',fs).attr('fill',ink).text(rowName);
  agentColumns.forEach((colName,c)=>{
    const x=d3.scaleLinear().domain(dom).range([colX[c],colX[c+1]]);
    const g=svg.append('g');
    g.selectAll('circle').data(toPts(pointGrid[r][c])).join('circle')
      .attr('cx',d=>x(d[0])).attr('cy',d=>y(d[1])).attr('r',4.6).attr('fill','#ff0000');
    if(r===4&&c===2){
      g.selectAll('.hl').data(toPts(highlightPoint)).join('circle').attr('class','hl')
        .attr('cx',d=>x(d[0])).attr('cy',d=>y(d[1])).attr('r',5).attr('fill','#7f8a80')
        .attr('stroke','#f6efc4').attr('stroke-width',2);
    }
    if(r===4){
      const axb=svg.append('g').attr('transform',`translate(0,${rowY[5]})`)
        .call(d3.axisBottom(x).tickValues(tickValues).tickSize(0).tickPadding(3).tickFormat(d3.format('d')));
      axb.select('.domain').remove();
      axb.selectAll('text').attr('font-family',sansF).attr('font-size',15.5).attr('fill',ink).text(d=>d<0?'-'+Math.abs(d):d);
      axb.selectAll('text').attr('dy','0.95em');
      svg.append('text').attr('x',x(0)).attr('y',640).attr('text-anchor','middle')
        .attr('font-family',serifF).attr('font-size',fs).attr('fill',ink)
        .attr('textLength',colLabelW[c]).attr('lengthAdjust','spacing').text(colName);
    }
  });
});
const lines=svg.append('g').attr('stroke','#333');
rowY.forEach((v,i)=>lines.append('line').attr('x1',67).attr('x2',669).attr('y1',v).attr('y2',v)
  .attr('stroke-width',(i===0||i===5)?1.2:2));
colX.forEach((v,i)=>lines.append('line').attr('y1',2).attr('y2',602).attr('x1',v).attr('x2',v)
  .attr('stroke-width',i===0?1.5:(i===3?1.2:2)).attr('stroke',i===0?'#777':'#333'));
svg.append('text').attr('x',368).attr('y',659).attr('text-anchor','middle')
  .attr('font-family',serifF).attr('font-size',fs).attr('fill',ink)
  .attr('textLength',146).attr('lengthAdjust','spacing').text('Number of agents');
svg.append('text').attr('transform','translate(25,302) rotate(-90)').attr('text-anchor','middle')
  .attr('font-family',serifF).attr('font-size',fs).attr('fill',ink)
  .attr('textLength',286).attr('lengthAdjust','spacing').text('Number of data samples per agent');
</script></body></html>
